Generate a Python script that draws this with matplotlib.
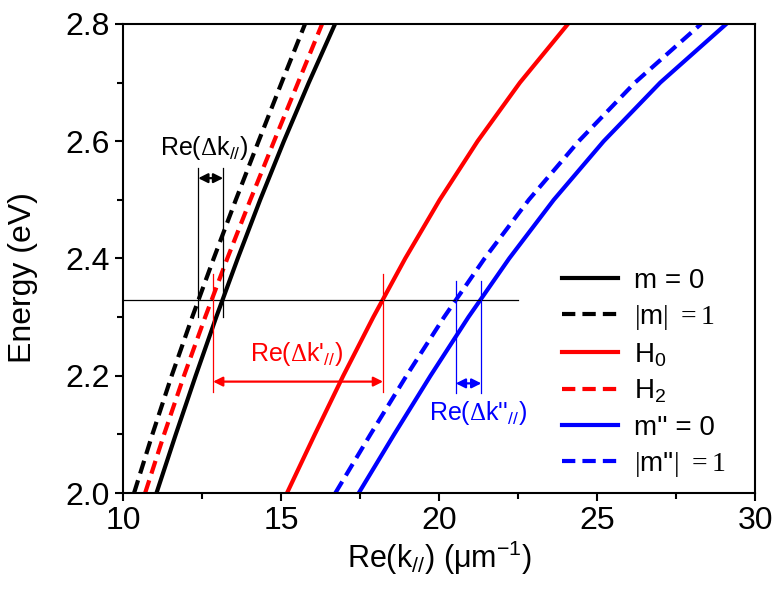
import numpy as np
import matplotlib
matplotlib.use('Agg')
import matplotlib.pyplot as plt
from matplotlib.ticker import MultipleLocator, FormatStrFormatter

plt.rcParams['font.family'] = ['Liberation Sans', 'DejaVu Sans']
plt.rcParams['mathtext.fontset'] = 'custom'
plt.rcParams['mathtext.rm'] = 'Liberation Serif'
plt.rcParams['mathtext.sf'] = 'Liberation Sans'
plt.rcParams['mathtext.it'] = 'Liberation Sans:italic'

# energy grid (eV) and Re(k) of each branch (um^-1)
energy = [2.0, 2.1, 2.2, 2.3, 2.4, 2.5, 2.6, 2.7, 2.8]
k_m0 = [11.06, 11.67, 12.30, 12.95, 13.63, 14.34, 15.09, 15.88, 16.71]
k_m1 = [10.35, 10.93, 11.54, 12.19, 12.87, 13.57, 14.29, 15.02, 15.76]
k_h0 = [15.19, 16.07, 16.97, 17.92, 18.93, 20.02, 21.22, 22.56, 24.08]
k_h2 = [10.70, 11.30, 11.93, 12.60, 13.30, 14.03, 14.78, 15.54, 16.30]
k_mm0 = [17.46, 18.58, 19.73, 20.93, 22.22, 23.63, 25.21, 27.00, 29.09]
k_mm1 = [16.72, 17.83, 18.97, 20.16, 21.44, 22.84, 24.42, 26.20, 28.29]

labels = ['m = 0', r'$|$m$|$ $=1$', r'H$_\mathsf{0}$', r'H$_\mathsf{2}$',
          "m'' = 0", r"$|$m''$|$ $=1$"]

# reference energy and the three Re(delta k) markers
e_ref = 2.33
dk_black = (12.38, 13.17)
dk_red = (12.85, 18.23)
dk_blue = (20.53, 21.34)

fig = plt.figure(figsize=(7.76, 5.96), dpi=100)
ax = fig.add_axes([0.1585, 0.1728, 0.8145, 0.787])

series = [(k_m0, 'black', '-'), (k_m1, 'black', '--'),
          (k_h0, 'red', '-'), (k_h2, 'red', '--'),
          (k_mm0, 'blue', '-'), (k_mm1, 'blue', '--')]
for (k, c, ls), lab in zip(series, labels):
    line, = ax.plot(k, energy, color=c, lw=3, ls=ls, label=lab)
    if ls == '--':
        line.set_dashes((3.2, 1.7))

# horizontal reference line
ax.plot([10, 22.5], [e_ref, e_ref], color='black', lw=0.9)

def marker(xs, e_lo, e_hi, e_arrow, color, lw):
    for x in xs:
        ax.plot([x, x], [e_lo, e_hi], color=color, lw=lw)
    ax.annotate('', xy=(xs[0], e_arrow), xytext=(xs[1], e_arrow),
                arrowprops=dict(arrowstyle='<|-|>', color=color, lw=1.6,
                                shrinkA=0, shrinkB=0, mutation_scale=14))

marker(dk_black, 2.30, 2.555, 2.537, 'black', 0.9)
marker(dk_red, 2.172, 2.373, 2.19, 'red', 0.9)
marker(dk_blue, 2.171, 2.362, 2.187, 'blue', 0.9)

ax.text(12.56, 2.588, r'Re($\Delta$k$_\mathsf{//}$)', color='black',
        fontsize=18, ha='center', va='center')
ax.text(15.5, 2.237, r"Re($\Delta$k'$_\mathsf{//}$)", color='red',
        fontsize=18, ha='center', va='center')
ax.text(21.24, 2.136, r"Re($\Delta$k''$_\mathsf{//}$)", color='blue',
        fontsize=18, ha='center', va='center')

ax.set_xlim(10, 30)
ax.set_ylim(2.0, 2.8)
ax.xaxis.set_major_locator(MultipleLocator(5))
ax.xaxis.set_minor_locator(MultipleLocator(2.5))
ax.yaxis.set_major_locator(MultipleLocator(0.2))
ax.yaxis.set_minor_locator(MultipleLocator(0.1))
ax.yaxis.set_major_formatter(FormatStrFormatter('%.1f'))
ax.tick_params(which='both', direction='out', width=1.5, labelsize=23)
ax.tick_params(which='major', length=6)
ax.tick_params(which='minor', length=4)
for s in ax.spines.values():
    s.set_linewidth(1.5)

ax.set_xlabel(r'Re(k$_\mathsf{//}$) (μm$^\mathsf{-1}$)', fontsize=22, labelpad=2)
ax.set_ylabel('Energy (eV)', fontsize=23)
ax.yaxis.set_label_coords(-0.135, 0.46)

ax.legend(loc='upper left', bbox_to_anchor=(0.695, 0.48), frameon=False,
          fontsize=20, handlelength=2.0, handletextpad=0.6, labelspacing=0.33,
          borderpad=0, borderaxespad=0)

fig.savefig('out.png', dpi=100)
